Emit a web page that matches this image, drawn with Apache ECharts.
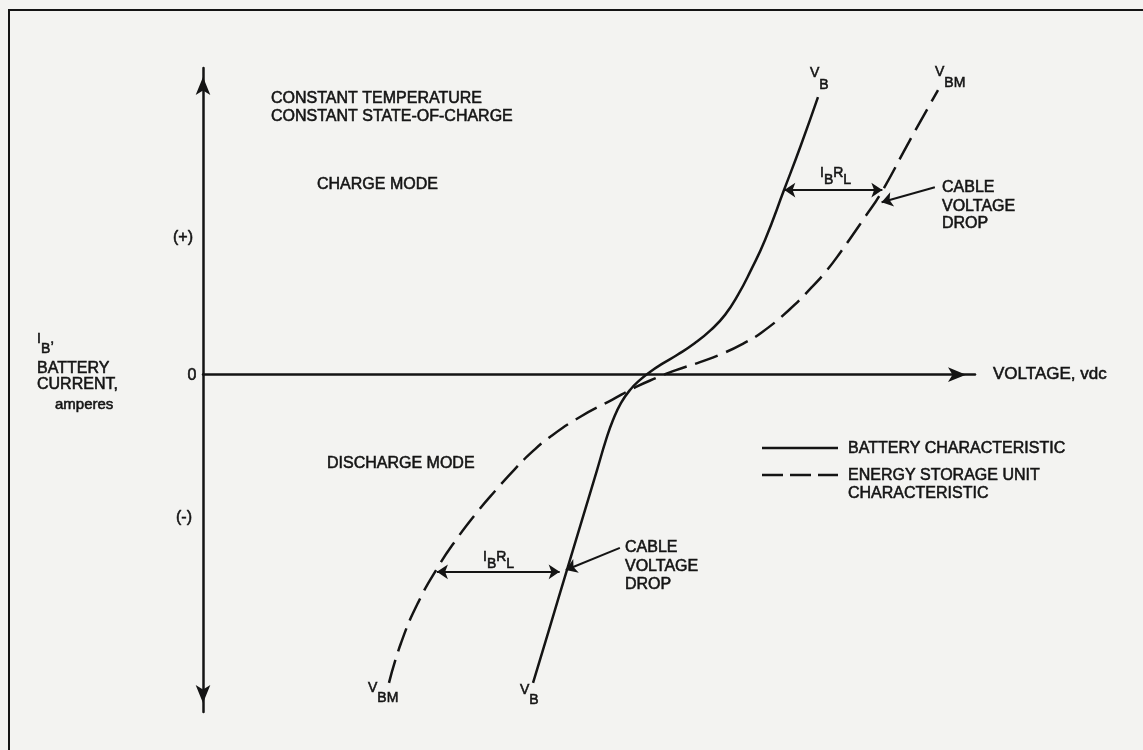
<!DOCTYPE html>
<html><head><meta charset="utf-8">
<script src="https://cdn.jsdelivr.net/npm/echarts@6/dist/echarts.min.js"></script>
<style>html,body{margin:0;padding:0;background:#f3f3f1}#c{width:1143px;height:750px}</style>
</head><body><div id="c"></div>
<script>
// ---- Data (arbitrary units: voltage 0..100, current -11..10) ----
const batteryVoltage = [42.75, 44.82, 47.02, 49.09, 51.04, 52.20, 53.11, 54.15, 55.31, 56.61, 57.90, 59.46, 61.40, 63.73, 65.80, 67.62, 69.30, 70.98, 72.80, 75.26, 77.46, 79.66];
const batteryCurrent = [-10.05, -8.32, -6.47, -4.74, -3.11, -2.13, -1.48, -0.92, -0.50, -0.17, 0.09, 0.35, 0.64, 1.03, 1.46, 1.95, 2.60, 3.41, 4.39, 6.02, 7.49, 9.05];
const esuVoltage = [24.09, 25.65, 27.85, 30.44, 32.77, 35.23, 37.95, 40.28, 42.62, 44.95, 48.83, 52.98, 56.09, 58.68, 61.27, 64.38, 67.49, 70.08, 72.28, 75.91, 78.89, 80.83, 82.51, 85.75, 87.82, 91.58, 95.21];
const esuCurrent = [-10.05, -8.75, -7.44, -6.27, -5.39, -4.57, -3.76, -3.11, -2.52, -2.03, -1.38, -0.82, -0.40, -0.11, 0.15, 0.41, 0.71, 1.03, 1.36, 2.11, 2.86, 3.41, 3.97, 5.14, 5.92, 7.65, 9.28];
// IR-drop dimension arrows: [current, voltage from, voltage to]
const irDropCharge = [6.02, 75.3, 88.0];
const irDropDischarge = [-6.43, 30.3, 46.2];
// Cable-voltage-drop pointers: [[V,I] start, [V,I] end]
const cablePointerCharge = [[94.8, 6.11], [87.9, 5.62]];
const cablePointerDischarge = [[54.0, -5.65], [47.0, -6.37]];
const yTickLabels = ['(+)', '0', '(-)'];
const legendLabels = ['BATTERY CHARACTERISTIC', 'ENERGY STORAGE UNIT', 'CHARACTERISTIC'];
const headerLines = ['CONSTANT TEMPERATURE', 'CONSTANT STATE-OF-CHARGE'];
const modeLabels = ['CHARGE MODE', 'DISCHARGE MODE'];
const cableLines = ['CABLE', 'VOLTAGE', 'DROP'];

const zip = (a, b) => a.map((v, i) => [v, b[i]]);
const INK = '#141414';
const FONT = '"Liberation Sans", Arial, sans-serif';

const ctx = document.createElement('canvas').getContext('2d');
function txt(x, y, t, size, align) {
  return {type: 'text', x: x, y: y, silent: true,
    style: {text: t, font: size + 'px ' + FONT, fill: INK, stroke: INK, lineWidth: 0.55,
      align: align || 'left', verticalAlign: 'middle'}};
}
function parts(x, y, arr, size, subOff) {
  const els = [];
  ctx.font = size + 'px ' + FONT;
  let cx = x;
  arr.forEach(p => {
    els.push(txt(cx, y + (p[1] ? subOff : 0), p[0], size));
    cx += ctx.measureText(p[0]).width;
  });
  return els;
}

const graphics = [];
graphics.push({type: 'polyline', silent: true, shape: {points: [[9, 750], [9, 10], [1143, 10]]}, style: {stroke: INK, lineWidth: 2, fill: null}});
graphics.push(txt(271, 99, headerLines[0], 16), txt(271, 116.5, headerLines[1], 16));
graphics.push(txt(317, 185, modeLabels[0], 16), txt(327, 464, modeLabels[1], 16));
graphics.push(txt(183, 238, yTickLabels[0], 16, 'center'), txt(192, 376, yTickLabels[1], 16, 'center'), txt(184, 518, yTickLabels[2], 16, 'center'));
graphics.push(...parts(37, 339, [['I', 0], ['B', 1], [',', 0]], 14, 10));
graphics.push(txt(37, 368.5, 'BATTERY', 16), txt(37, 385, 'CURRENT,', 16), txt(55, 405, 'amperes', 15));
graphics.push(txt(993, 374, 'VOLTAGE, vdc', 17));
graphics.push(...parts(810, 73, [['V', 0], ['B', 1]], 14, 12));
graphics.push(...parts(935, 72, [['V', 0], ['BM', 1]], 14, 11));
graphics.push(...parts(368, 688, [['V', 0], ['BM', 1]], 14, 10));
graphics.push(...parts(520, 690, [['V', 0], ['B', 1]], 14, 10));
graphics.push(...parts(820, 173, [['I', 0], ['B', 1], ['R', 0], ['L', 1]], 14, 7));
graphics.push(...parts(483, 557, [['I', 0], ['B', 1], ['R', 0], ['L', 1]], 14, 7));
[188, 206.5, 223.5].forEach((y, i) => graphics.push(txt(942, y, cableLines[i], 16)));
[548, 567, 585].forEach((y, i) => graphics.push(txt(625, y, cableLines[i], 16)));
// legend
graphics.push({type: 'line', silent: true, shape: {x1: 762, y1: 448, x2: 838, y2: 448}, style: {stroke: INK, lineWidth: 2.5}});
graphics.push({type: 'line', silent: true, shape: {x1: 762, y1: 475, x2: 838, y2: 475}, style: {stroke: INK, lineWidth: 2.5, lineDash: [21, 7]}});
graphics.push(txt(848, 449, legendLabels[0], 16), txt(848, 476, legendLabels[1], 16), txt(848, 494, legendLabels[2], 16));

const chart = echarts.init(document.getElementById('c'), null, {renderer: 'canvas'});
chart.setOption({
  backgroundColor: '#f3f3f1',
  animation: false,
  grid: {left: 203, right: 168, top: 68, bottom: 38, containLabel: false},
  xAxis: {type: 'value', min: 0, max: 100, splitLine: {show: false}, axisTick: {show: false}, axisLabel: {show: false},
    axisLine: {onZero: true, lineStyle: {color: INK, width: 2.5}, symbol: ['none', 'arrow'], symbolSize: [11, 18], symbolOffset: [0, -9]}},
  yAxis: {type: 'value', min: -11, max: 10, splitLine: {show: false}, axisTick: {show: false}, axisLabel: {show: false},
    axisLine: {onZero: true, lineStyle: {color: INK, width: 2.5}, symbol: ['arrow', 'arrow'], symbolSize: [11, 18], symbolOffset: [9, -9]}},
  series: [
    {type: 'line', name: 'Battery', data: zip(batteryVoltage, batteryCurrent), smooth: 0.5, showSymbol: false, silent: true,
      lineStyle: {color: INK, width: 2.5}},
    {type: 'line', name: 'ESU', data: zip(esuVoltage, esuCurrent), smooth: 0.5, showSymbol: false, silent: true,
      lineStyle: {color: INK, width: 2.5, type: [24, 9]}},
    {type: 'lines', coordinateSystem: 'cartesian2d', silent: true, symbol: ['arrow', 'arrow'], symbolSize: 11,
      lineStyle: {color: INK, width: 2, opacity: 1},
      data: [
        {coords: [[irDropCharge[1], irDropCharge[0]], [irDropCharge[2], irDropCharge[0]]]},
        {coords: [[irDropDischarge[1], irDropDischarge[0]], [irDropDischarge[2], irDropDischarge[0]]]}
      ]},
    {type: 'lines', coordinateSystem: 'cartesian2d', silent: true, symbol: ['none', 'arrow'], symbolSize: 11,
      lineStyle: {color: INK, width: 2, opacity: 1},
      data: [{coords: cablePointerCharge}, {coords: cablePointerDischarge}]}
  ],
  graphic: graphics
});
</script></body></html>
